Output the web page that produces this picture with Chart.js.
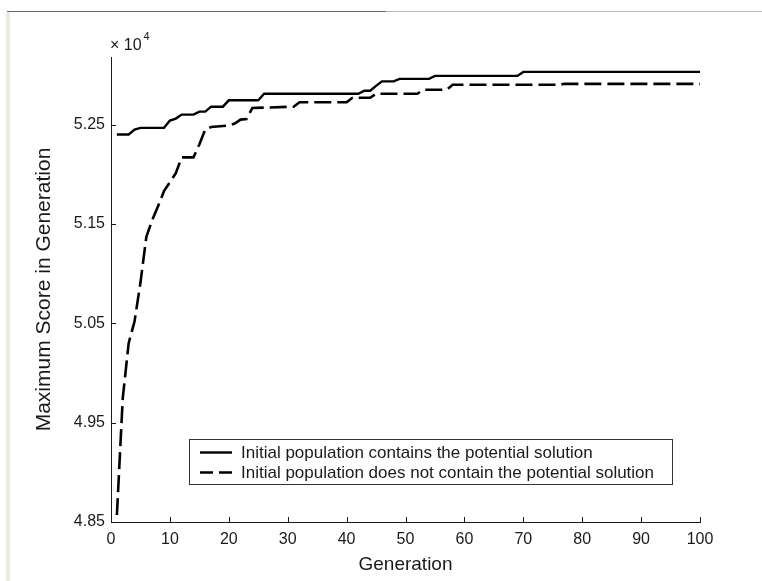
<!DOCTYPE html>
<html>
<head>
<meta charset="utf-8">
<title>Maximum Score in Generation</title>
<script src="https://cdn.jsdelivr.net/npm/chart.js@4.4.0/dist/chart.umd.min.js"></script>
<style>
  html, body { margin: 0; padding: 0; background: #fff; }
  #frame { position: relative; width: 762px; height: 581px; overflow: hidden; background: #fff; }
  /* window edge left over around the figure */
  #ruleDark { position: absolute; left: 7px; top: 11px; width: 379px; height: 1px; background: #6a6a6a; }
  #ruleLight { position: absolute; left: 386px; top: 11px; width: 376px; height: 1px; background: #b8b8b8; }
  #edge { position: absolute; left: 6px; top: 12px; width: 4px; height: 569px; background: #ecebe3; }
  #chart { position: absolute; left: 0; top: 0; }
</style>
</head>
<body>
<div id="frame">
  <div id="ruleDark"></div>
  <div id="ruleLight"></div>
  <div id="edge"></div>
  <canvas id="chart" width="762" height="581"></canvas>
</div>
<script>
// breakpoints of each run (generation, best score); straight segments between them
const withSolutionGen   = [1, 3, 4, 5, 9, 10, 11, 12, 14, 15, 16, 17, 19, 20, 25, 26, 42, 43, 44, 45, 46, 48, 49, 54, 55, 69, 70, 100];
const withSolutionScore = [52400, 52400, 52450, 52467, 52467, 52540, 52560, 52600, 52600, 52630, 52630, 52680, 52680, 52744, 52744,
                           52810, 52810, 52840, 52840, 52890, 52935, 52935, 52960, 52960, 52990, 52990, 53030, 53030];

const withoutSolutionGen   = [1, 2, 3, 4, 5, 6, 7, 8, 9, 10, 11, 12, 14, 15, 16, 17, 20, 21, 22, 23, 24, 31, 32, 40, 41, 44,
                              45, 52, 53, 57, 58, 76, 77, 100];
const withoutSolutionScore = [48570, 49750, 50300, 50520, 50910, 51370, 51540, 51680, 51830, 51920, 52010, 52170, 52170, 52300,
                              52450, 52475, 52490, 52510, 52550, 52555, 52667, 52680, 52724, 52724, 52770, 52770,
                              52810, 52810, 52850, 52850, 52900, 52900, 52910, 52910];

const seriesLabels = [
  'Initial population contains the potential solution',
  'Initial population does not contain the potential solution'
];

const yTickValues = [48500, 49500, 50500, 51500, 52500];
const yTickLabels = ['4.85', '4.95', '5.05', '5.15', '5.25'];
const xTickValues = [0, 10, 20, 30, 40, 50, 60, 70, 80, 90, 100];

const FONT = '"Liberation Sans", Arial, Helvetica, sans-serif';
const INK = '#1a1a1a';

function toPoints(xs, ys) {
  return xs.map((x, i) => ({ x: x, y: ys[i] }));
}

// inward tick marks, the x10^4 multiplier and the boxed legend
const figureExtras = {
  id: 'figureExtras',
  afterDraw(chart) {
    const ctx = chart.ctx;
    const xs = chart.scales.x;
    const ys = chart.scales.y;
    const area = chart.chartArea;

    ctx.save();
    ctx.strokeStyle = INK;
    ctx.lineWidth = 1;
    ctx.beginPath();
    xTickValues.forEach(v => {
      const px = Math.round(xs.getPixelForValue(v)) + 0.5;
      ctx.moveTo(px, area.bottom);
      ctx.lineTo(px, area.bottom - 5);
    });
    yTickValues.forEach(v => {
      const py = Math.round(ys.getPixelForValue(v)) + 0.5;
      ctx.moveTo(area.left, py);
      ctx.lineTo(area.left + 5, py);
    });
    ctx.stroke();

    // exponent above the y axis
    ctx.fillStyle = INK;
    ctx.textBaseline = 'alphabetic';
    ctx.textAlign = 'left';
    ctx.font = '16px ' + FONT;
    const base = '\u00d7 10';
    ctx.fillText(base, area.left - 1, 50);
    const w = ctx.measureText(base).width;
    ctx.font = '11px ' + FONT;
    ctx.fillText('4', area.left + w + 1, 40);

    // legend
    const box = { x: 189.5, y: 439.5, w: 483, h: 45 };
    ctx.fillStyle = '#fff';
    ctx.fillRect(box.x, box.y, box.w, box.h);
    ctx.strokeStyle = '#333';
    ctx.lineWidth = 1;
    ctx.strokeRect(box.x, box.y, box.w, box.h);

    const rows = [452.5, 472.5];
    chart.data.datasets.forEach((ds, i) => {
      ctx.strokeStyle = ds.borderColor;
      ctx.lineWidth = ds.borderWidth;
      ctx.setLineDash(ds.borderDash.length ? [13, 6] : []);
      ctx.beginPath();
      ctx.moveTo(200, rows[i]);
      ctx.lineTo(232, rows[i]);
      ctx.stroke();
      ctx.setLineDash([]);
      ctx.fillStyle = INK;
      ctx.font = '17px ' + FONT;
      ctx.textBaseline = 'middle';
      ctx.fillText(ds.label, 241, rows[i] + 1);
    });
    ctx.restore();
  }
};

new Chart(document.getElementById('chart'), {
  type: 'line',
  data: {
    datasets: [
      {
        label: seriesLabels[0],
        data: toPoints(withSolutionGen, withSolutionScore),
        borderColor: '#000',
        borderWidth: 2.4,
        borderDash: [],
        pointRadius: 0,
        tension: 0,
        fill: false
      },
      {
        label: seriesLabels[1],
        data: toPoints(withoutSolutionGen, withoutSolutionScore),
        borderColor: '#000',
        borderWidth: 2.6,
        borderDash: [17, 6],
        borderCapStyle: 'butt',
        pointRadius: 0,
        tension: 0,
        fill: false
      }
    ]
  },
  options: {
    responsive: false,
    animation: false,
    devicePixelRatio: 1,
    layout: { padding: { top: 57, right: 62, left: 0, bottom: 0 } },
    plugins: {
      legend: { display: false },
      tooltip: { enabled: false }
    },
    scales: {
      x: {
        type: 'linear',
        min: 0,
        max: 100,
        afterFit: (scale) => { scale.height = 59; },
        afterBuildTicks: (scale) => { scale.ticks = xTickValues.map(v => ({ value: v })); },
        border: { display: true, color: INK, width: 1 },
        grid: { display: true, drawOnChartArea: false, drawTicks: false },
        ticks: {
          color: INK,
          padding: 8,
          maxRotation: 0,
          font: { family: FONT, size: 16 }
        },
        title: {
          display: true,
          text: 'Generation',
          color: INK,
          padding: { top: 0, bottom: 5 },
          font: { family: FONT, size: 19 }
        }
      },
      y: {
        type: 'linear',
        min: 48500,
        max: 53180,
        afterFit: (scale) => { scale.width = 111; },
        afterBuildTicks: (scale) => { scale.ticks = yTickValues.map(v => ({ value: v })); },
        border: { display: true, color: INK, width: 1 },
        grid: { display: true, drawOnChartArea: false, drawTicks: false },
        ticks: {
          color: INK,
          padding: 6,
          font: { family: FONT, size: 16 },
          callback: (value) => yTickLabels[yTickValues.indexOf(value)]
        },
        title: {
          display: true,
          text: 'Maximum Score in Generation',
          color: INK,
          padding: { top: 32, bottom: 0 },
          font: { family: FONT, size: 21 }
        }
      }
    }
  },
  plugins: [figureExtras]
});
</script>
</body>
</html>
